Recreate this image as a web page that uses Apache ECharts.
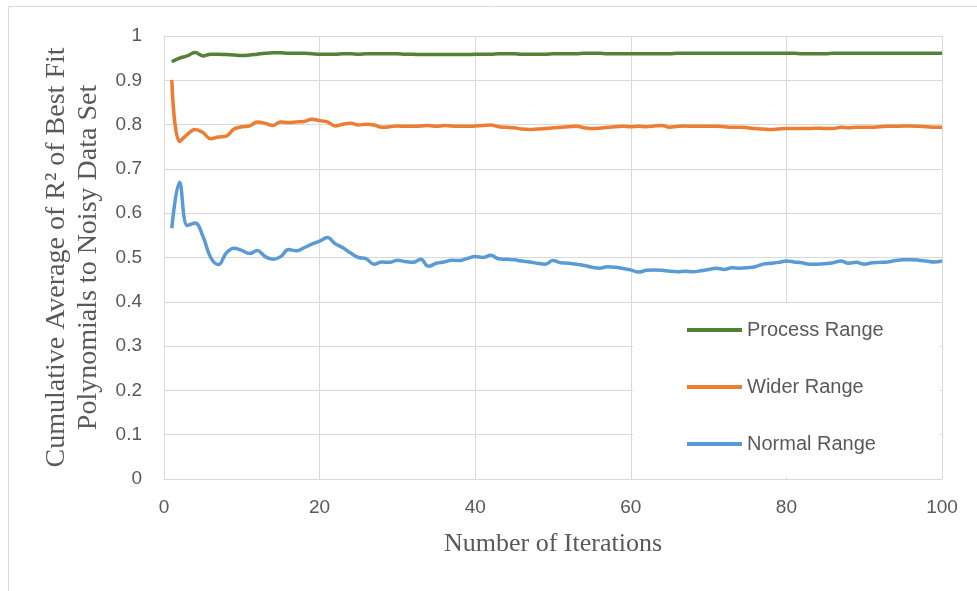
<!DOCTYPE html>
<html>
<head>
<meta charset="utf-8">
<script src="https://cdn.jsdelivr.net/npm/echarts@6/dist/echarts.min.js"></script>
<style>html,body{margin:0;padding:0;background:#fff;}#c{width:977px;height:591px;}</style>
</head>
<body>
<div id="c"></div>
<script>
const iterations = [1,2,3,4,5,6,7,8,9,10,11,12,13,14,15,16,17,18,19,20,21,22,23,24,25,26,27,28,29,30,31,32,33,34,35,36,37,38,39,40,41,42,43,44,45,46,47,48,49,50,51,52,53,54,55,56,57,58,59,60,61,62,63,64,65,66,67,68,69,70,71,72,73,74,75,76,77,78,79,80,81,82,83,84,85,86,87,88,89,90,91,92,93,94,95,96,97,98,99,100];

const processRange = [0.942,0.950,0.955,0.963,0.955,0.959,0.959,0.958,0.957,0.956,
0.957,0.959,0.961,0.962,0.962,0.961,0.961,0.961,0.960,0.959,
0.959,0.959,0.960,0.960,0.959,0.960,0.960,0.960,0.960,0.960,
0.959,0.959,0.958,0.958,0.958,0.958,0.958,0.958,0.958,0.959,
0.959,0.959,0.960,0.960,0.960,0.959,0.959,0.959,0.959,0.960,
0.960,0.960,0.960,0.961,0.961,0.961,0.960,0.960,0.960,0.960,
0.960,0.960,0.960,0.960,0.960,0.961,0.961,0.961,0.961,0.961,
0.961,0.961,0.961,0.961,0.961,0.961,0.961,0.961,0.961,0.961,
0.961,0.960,0.960,0.960,0.960,0.961,0.961,0.961,0.961,0.961,
0.961,0.961,0.961,0.961,0.961,0.961,0.961,0.961,0.961,0.961];

const widerRange = [0.901,0.762,0.778,0.789,0.782,0.768,0.772,0.774,0.790,0.795,
0.797,0.806,0.803,0.798,0.806,0.805,0.806,0.807,0.812,0.809,
0.806,0.797,0.801,0.803,0.799,0.801,0.799,0.794,0.795,0.797,
0.796,0.796,0.797,0.798,0.796,0.798,0.797,0.796,0.796,0.797,
0.798,0.799,0.795,0.794,0.793,0.790,0.789,0.790,0.791,0.793,
0.794,0.795,0.796,0.793,0.791,0.792,0.794,0.795,0.796,0.795,
0.796,0.795,0.797,0.798,0.794,0.796,0.797,0.796,0.796,0.796,
0.796,0.795,0.794,0.794,0.793,0.791,0.790,0.789,0.790,0.791,
0.791,0.791,0.791,0.792,0.791,0.791,0.794,0.793,0.794,0.794,
0.794,0.795,0.796,0.796,0.797,0.797,0.796,0.795,0.794,0.794];

const normalRange = [0.566,0.670,0.572,0.578,0.548,0.500,0.484,0.510,0.521,0.516,
0.509,0.516,0.502,0.496,0.502,0.518,0.515,0.522,0.530,0.537,
0.545,0.531,0.522,0.510,0.500,0.497,0.485,0.490,0.489,0.494,
0.491,0.489,0.496,0.480,0.487,0.490,0.494,0.493,0.498,0.502,
0.500,0.505,0.497,0.496,0.495,0.492,0.490,0.487,0.485,0.493,
0.488,0.487,0.485,0.482,0.478,0.476,0.479,0.478,0.475,0.472,
0.467,0.471,0.472,0.471,0.469,0.468,0.469,0.468,0.470,0.473,
0.476,0.473,0.477,0.476,0.477,0.479,0.485,0.487,0.489,0.492,
0.490,0.488,0.485,0.485,0.486,0.488,0.492,0.487,0.489,0.485,
0.488,0.489,0.490,0.493,0.495,0.495,0.494,0.492,0.490,0.492];

const seriesNames = ['Process Range','Wider Range','Normal Range'];
const seriesColors = ['#538135','#ED7D31','#5B9BD5'];
const xTitle = 'Number of Iterations';
const yTitle = 'Cumulative Average of R\u00B2 of Best Fit\nPolynomials to Noisy Data Set';

function pairs(vals){ return iterations.map((x,i)=>[x, vals[i]]); }

const chart = echarts.init(document.getElementById('c'), null, {renderer:'canvas'});
const gridColor = '#d9d9d9';
const textColor = '#595959';
chart.setOption({
  animation:false,
  backgroundColor:'#fff',
  graphic:[
    {type:'rect', z:-10, shape:{x:8.5, y:6.5, width:1200, height:1000}, style:{fill:'none', stroke:gridColor, lineWidth:1}},
    {type:'rect', z:1, shape:{x:633, y:303, width:307, height:174}, style:{fill:'#fff'}}
  ],
  grid:{left:164, right:35, top:36, bottom:112, containLabel:false},
  xAxis:{
    type:'value', min:0, max:100, interval:20,
    axisLine:{show:true, lineStyle:{color:gridColor, width:1}},
    axisTick:{show:false},
    splitLine:{show:true, lineStyle:{color:gridColor, width:1}},
    axisLabel:{color:textColor, fontSize:19, fontFamily:'Liberation Sans', margin:19},
    name:xTitle, nameLocation:'middle', nameGap:52,
    nameTextStyle:{color:textColor, fontSize:26, fontFamily:'Liberation Serif'}
  },
  yAxis:{
    type:'value', min:0, max:1, interval:0.1,
    axisLine:{show:true, lineStyle:{color:gridColor, width:1}},
    axisTick:{show:false},
    splitLine:{show:true, lineStyle:{color:gridColor, width:1}},
    axisLabel:{color:textColor, fontSize:19, fontFamily:'Liberation Sans', margin:22},
    name:yTitle, nameLocation:'middle', nameRotate:90, nameGap:56,
    nameTextStyle:{color:textColor, fontSize:28, fontFamily:'Liberation Serif', lineHeight:32, align:'center'}
  },
  legend:{
    orient:'vertical', left:687, top:320, padding:0, itemGap:37,
    itemWidth:55, itemHeight:4, icon:'rect',
    textStyle:{color:textColor, fontSize:20, fontFamily:'Liberation Sans', lineHeight:20},
    data:seriesNames, z:5
  },
  series:[
    {name:seriesNames[0], type:'line', data:pairs(processRange), smooth:0.4, symbol:'none', z:3,
     lineStyle:{color:seriesColors[0], width:3.5}, itemStyle:{color:seriesColors[0]}},
    {name:seriesNames[1], type:'line', data:pairs(widerRange), smooth:0.4, symbol:'none', z:3,
     lineStyle:{color:seriesColors[1], width:3.5}, itemStyle:{color:seriesColors[1]}},
    {name:seriesNames[2], type:'line', data:pairs(normalRange), smooth:0.4, symbol:'none', z:3,
     lineStyle:{color:seriesColors[2], width:3.5}, itemStyle:{color:seriesColors[2]}}
  ]
});
</script>
</body>
</html>
